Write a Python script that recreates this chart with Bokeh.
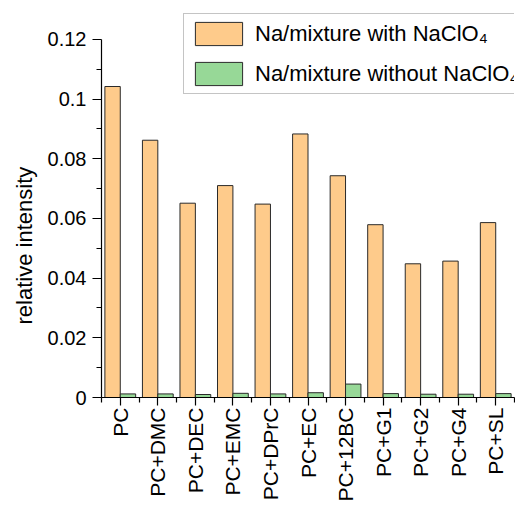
import math
from bokeh.plotting import figure
from bokeh.models import Range1d, FixedTicker, Legend, LegendItem, ColumnDataSource, Title
from bokeh.transform import dodge
from bokeh.embed import file_html
from bokeh.resources import INLINE

categories = ["PC", "PC+DMC", "PC+DEC", "PC+EMC", "PC+DPrC", "PC+EC",
              "PC+12BC", "PC+G1", "PC+G2", "PC+G4", "PC+SL"]
with_naclo4 = [0.1042, 0.0862, 0.0651, 0.0710, 0.0648, 0.0883,
               0.0743, 0.0579, 0.0448, 0.0457, 0.0586]
without_naclo4 = [0.0012, 0.0012, 0.0010, 0.0014, 0.0012, 0.0016,
                  0.0045, 0.0013, 0.0011, 0.0011, 0.0013]
y_ticks = [0, 0.02, 0.04, 0.06, 0.08, 0.1, 0.12]
y_tick_labels = ["0", "0.02", "0.04", "0.06", "0.08", "0.1", "0.12"]
y_minor_ticks = [0.01, 0.03, 0.05, 0.07, 0.09, 0.11]
series_labels = ["Na/mixture with NaClO\u2084", "Na/mixture without NaClO\u2084"]
y_axis_title = "relative intensity"

FONT = "Liberation Sans"
x_pos = list(range(len(categories)))
src = ColumnDataSource(dict(x=x_pos, with_=with_naclo4, without=without_naclo4))

p = figure(frame_width=413, frame_height=388,
           x_range=Range1d(-0.5, len(categories) - 0.5),
           y_range=Range1d(0, 0.13),
           output_backend="svg", toolbar_location=None,
           min_border_left=101, min_border_right=1, min_border_top=9,
           min_border_bottom=0)

r1 = p.vbar(x=dodge("x", -0.205), top="with_", width=0.41, source=src,
            fill_color="#FECB8B", line_color="#2a2a2a", line_width=1)
r2 = p.vbar(x=dodge("x", 0.205), top="without", width=0.41, source=src,
            fill_color="#97D897", line_color="#2a2a2a", line_width=1)

p.grid.visible = False
p.outline_line_color = None
p.background_fill_color = "white"

xa = p.xaxis[0]
xa.ticker = FixedTicker(ticks=x_pos, minor_ticks=[i - 0.5 for i in range(len(categories) + 1)])
xa.major_label_overrides = {i: c for i, c in enumerate(categories)}
xa.major_label_orientation = math.pi / 2
xa.major_label_text_font = FONT
xa.major_label_text_font_size = "21px"
xa.major_label_text_color = "black"
xa.major_tick_out = 8
xa.major_tick_in = 0
xa.minor_tick_out = 5
xa.minor_tick_in = 0
xa.major_label_standoff = 2
xa.axis_line_color = "black"
xa.axis_line_width = 1.2
xa.major_tick_line_width = 1.2
xa.minor_tick_line_width = 1.2

ya = p.yaxis[0]
ya.ticker = FixedTicker(ticks=y_ticks, minor_ticks=y_minor_ticks)
ya.major_label_overrides = dict(zip(y_ticks, y_tick_labels))
ya.bounds = (0, 0.12)
ya.major_label_text_font = FONT
ya.major_label_text_font_size = "20px"
ya.major_label_text_color = "black"
ya.major_label_standoff = 6
ya.major_tick_out = 9
ya.major_tick_in = 0
ya.minor_tick_out = 5
ya.minor_tick_in = 0
ya.axis_line_color = "black"
ya.axis_line_width = 1.2
ya.major_tick_line_width = 1.2
ya.minor_tick_line_width = 1.2

# y-axis title as a left-side title, shifted down like the reference
p.add_layout(Title(text=y_axis_title, align="left", offset=73,
                   text_font=FONT, text_font_size="22px", text_font_style="normal",
                   text_color="black", standoff=16), "left")

legend = Legend(items=[LegendItem(label=series_labels[0], renderers=[r1]),
                       LegendItem(label=series_labels[1], renderers=[r2])],
                location=(82, 303), glyph_width=59, glyph_height=29,
                label_standoff=7, padding=5, spacing=11, margin=0,
                border_line_color="#8a8a8a", border_line_width=1,
                background_fill_color="white", background_fill_alpha=1,
                label_text_font=FONT, label_text_font_size="22px",
                label_text_color="black")
p.add_layout(legend)

html = file_html(p, INLINE)
html = html.replace("<head>", "<head><style>html,body{overflow:hidden}</style>", 1)
open("out.html", "w").write(html)
